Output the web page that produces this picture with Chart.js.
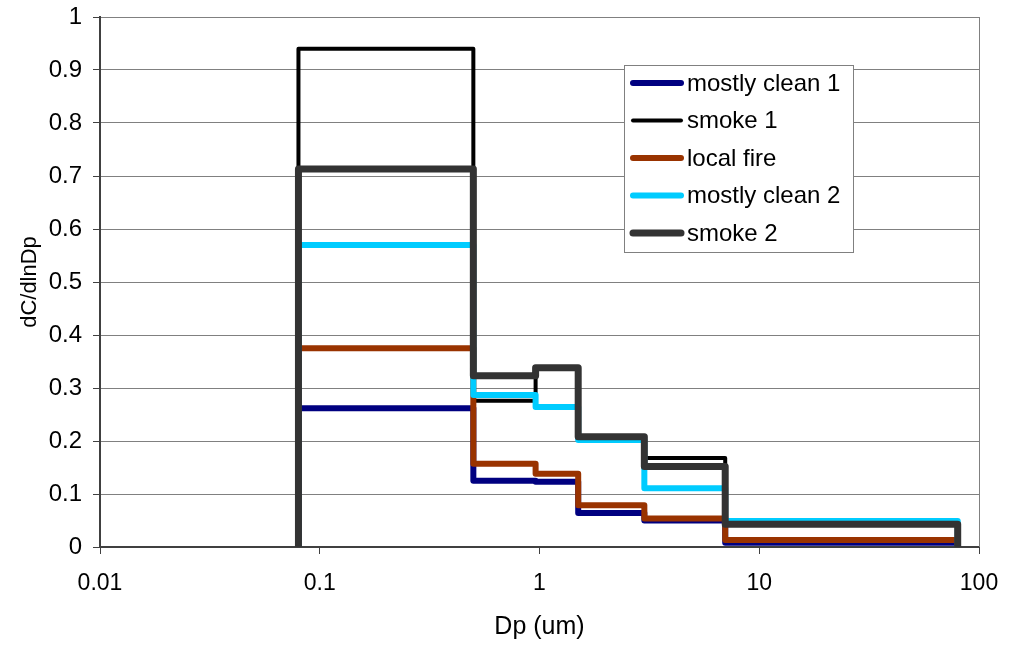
<!DOCTYPE html>
<html><head><meta charset="utf-8">
<script src="https://cdn.jsdelivr.net/npm/chart.js@4"></script>
<style>html,body{margin:0;padding:0;background:#fff}#wrap{width:1010px;height:649px;position:relative}</style>
</head><body><div id="wrap"><canvas id="c" width="1010" height="649"></canvas></div>
<script>
const binEdges = [0.08, 0.5, 0.96, 1.5, 3, 7, 80];
const seriesNames = ["mostly clean 1", "smoke 1", "local fire", "mostly clean 2", "smoke 2"];
const mostlyClean1 = [0.262, 0.125, 0.123, 0.064, 0.050, 0.008];
const smoke1       = [0.940, 0.276, 0.338, 0.208, 0.168, 0.043];
const localFire    = [0.375, 0.157, 0.138, 0.079, 0.054, 0.013];
const mostlyClean2 = [0.570, 0.287, 0.264, 0.202, 0.111, 0.049];
const smoke2       = [0.713, 0.323, 0.338, 0.208, 0.152, 0.043];
const xTickValues = [0.01, 0.1, 1, 10, 100];
const yTickStep = 0.1;

const colors = ["#000080", "#000000", "#993300", "#00CCFF", "#333333"];
const widths = [6, 4, 6, 6, 7];
const allValues = [mostlyClean1, smoke1, localFire, mostlyClean2, smoke2];

function stepPoints(vals) {
  const pts = [{x: binEdges[0], y: 0}];
  for (let i = 0; i < vals.length; i++) pts.push({x: binEdges[i], y: vals[i]});
  pts.push({x: binEdges[binEdges.length - 1], y: 0});
  return pts;
}

const datasets = allValues.map((v, i) => ({
  label: seriesNames[i], data: stepPoints(v), stepped: 'before',
  order: allValues.length - 1 - i,
  borderColor: colors[i], backgroundColor: colors[i], borderWidth: widths[i],
  pointRadius: 0, fill: false, borderJoinStyle: 'round', borderCapStyle: 'butt'
}));

const FONT = "'Liberation Sans', Arial, sans-serif";

const legendPlugin = {
  id: 'boxLegend',
  afterDraw(chart) {
    const ctx = chart.ctx;
    const x0 = 624, y0 = 65, w = 229, h = 187;
    ctx.save();
    ctx.fillStyle = '#fff';
    ctx.fillRect(x0, y0, w, h);
    ctx.strokeStyle = '#808080'; ctx.lineWidth = 1;
    ctx.strokeRect(x0 + 0.5, y0 + 0.5, w, h);
    ctx.font = '24px ' + FONT;
    ctx.textBaseline = 'middle';
    chart.data.datasets.forEach((ds, i) => {
      const yy = y0 + 18 + i * 37.5;
      ctx.strokeStyle = ds.borderColor; ctx.lineWidth = ds.borderWidth; ctx.lineCap = 'round';
      ctx.beginPath(); ctx.moveTo(x0 + 9, yy); ctx.lineTo(x0 + 57, yy); ctx.stroke();
      ctx.fillStyle = '#000';
      ctx.fillText(ds.label, x0 + 63, yy + 1);
    });
    ctx.restore();
  }
};

const borderPlugin = {
  id: 'plotBorder',
  beforeDatasetsDraw(chart) {
    const a = chart.chartArea, ctx = chart.ctx;
    ctx.save(); ctx.strokeStyle = '#808080'; ctx.lineWidth = 1;
    ctx.beginPath(); ctx.moveTo(a.right + 0.5, a.top); ctx.lineTo(a.right + 0.5, a.bottom); ctx.stroke();
    ctx.restore();
  }
};

new Chart(document.getElementById('c'), {
  type: 'line',
  data: { datasets },
  options: {
    responsive: false, animation: false,
    layout: { padding: { top: 17, right: 31, left: 0, bottom: 0 } },
    plugins: { legend: { display: false }, tooltip: { enabled: false } },
    scales: {
      x: {
        type: 'logarithmic', min: 0.01, max: 100,
        afterBuildTicks(s) { s.ticks = xTickValues.map(v => ({ value: v, major: true })); },
        afterFit(s) { s.height = 102; s.paddingLeft = 0; s.paddingRight = 0; },
        ticks: { color: '#000', font: { family: FONT, size: 23 }, padding: 16, maxRotation: 0,
          callback: v => String(v) },
        grid: { drawOnChartArea: false, drawTicks: true, tickLength: 7, color: '#404040', tickWidth: 1 },
        border: { color: '#404040', width: 2 },
        title: { display: true, text: 'Dp (um)', color: '#000', font: { family: FONT, size: 25 }, padding: { top: 4, bottom: 7 } }
      },
      y: {
        min: 0, max: 1,
        afterFit(s) { s.width = 100; s.paddingTop = 0; s.paddingBottom = 0; },
        ticks: { stepSize: yTickStep, color: '#000', font: { family: FONT, size: 24 }, padding: 11,
          callback: v => String(Math.round(v * 10) / 10) },
        grid: { color: '#808080', lineWidth: 1, drawTicks: true, tickLength: 7, tickColor: '#404040' },
        border: { color: '#404040', width: 2 },
        title: { display: true, text: 'dC/dlnDp', color: '#000', font: { family: FONT, size: 22 }, padding: { bottom: 0, top: 17 } }
      }
    }
  },
  plugins: [borderPlugin, legendPlugin]
});
</script></body></html>
